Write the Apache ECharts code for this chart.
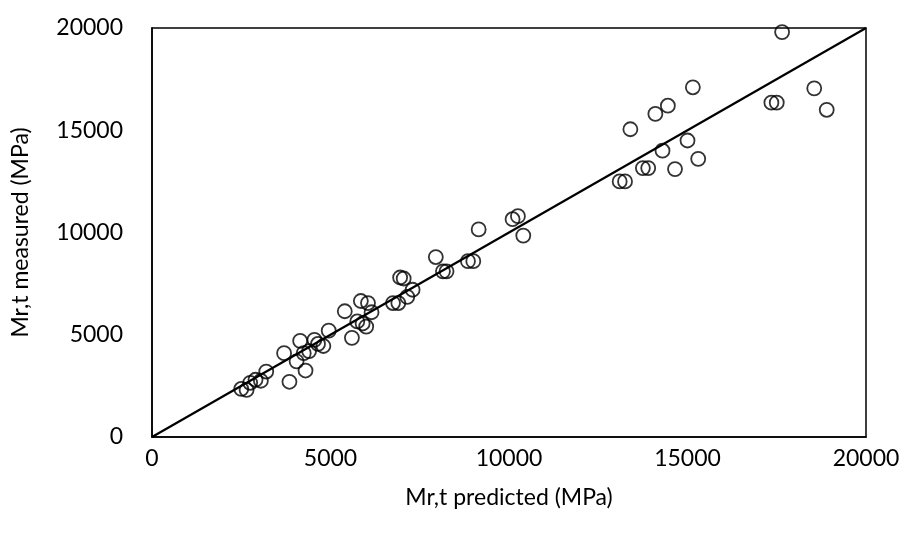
<!DOCTYPE html>
<html>
<head>
<meta charset="utf-8">
<script src="https://cdn.jsdelivr.net/npm/echarts@6/dist/echarts.min.js"></script>
<style>html,body{margin:0;padding:0;background:#fff}#c{width:906px;height:535px}</style>
</head>
<body>
<div id="c"></div>
<script>
var predicted = [17650,15150,18550,17350,17500,18900,14450,14100,13400,15000,14300,15300,13750,13900,14650,13100,13250,
  10100,10250,9150,10400,7950,8850,9000,8150,8250,6950,7050,7300,7150,6750,6900,5850,6050,5400,6150,5750,5900,6000,
  4950,5600,4150,4550,4650,4800,3700,4250,4400,4050,4300,3200,3850,2900,3050,2750,2500,2650];
var measured = [19800,17100,17050,16350,16350,16000,16200,15800,15050,14500,14000,13600,13150,13150,13100,12500,12500,
  10650,10800,10150,9850,8800,8600,8600,8100,8100,7800,7750,7200,6850,6550,6550,6650,6550,6150,6100,5650,5550,5400,
  5200,4850,4700,4750,4550,4450,4100,4100,4200,3700,3250,3200,2700,2800,2750,2650,2350,2300];
var lineX = [0, 20000];
var lineY = [0, 20000];
var xTitle = 'Mr,t predicted (MPa)';
var yTitle = 'Mr,t measured (MPa)';

var pts = predicted.map(function(v,i){return [v, measured[i]];});
var linePts = lineX.map(function(v,i){return [v, lineY[i]];});
var font = 'Lato, "Open Sans", sans-serif';
var fmt = function(v){return String(v);};
var chart = echarts.init(document.getElementById('c'));
chart.setOption({
  animation: false,
  backgroundColor: '#fff',
  grid: {left: 152, right: 40, top: 28, bottom: 98, show: true, borderColor: '#000', borderWidth: 1.5, containLabel: false},
  xAxis: {
    type: 'value', min: 0, max: 20000, interval: 5000,
    name: xTitle, nameLocation: 'middle', nameGap: 49,
    nameTextStyle: {fontFamily: font, fontSize: 23, color: '#000'},
    axisLine: {show: true, lineStyle: {color: '#000', width: 1.5}},
    axisTick: {show: false},
    axisLabel: {fontFamily: font, fontSize: 23, color: '#000', margin: 10, formatter: fmt},
    splitLine: {show: false}
  },
  yAxis: {
    type: 'value', min: 0, max: 20000, interval: 5000,
    name: yTitle, nameLocation: 'middle', nameGap: 120, nameRotate: 90,
    nameTextStyle: {fontFamily: font, fontSize: 23, color: '#000'},
    axisLine: {show: true, lineStyle: {color: '#000', width: 1.5}},
    axisTick: {show: false},
    axisLabel: {fontFamily: font, fontSize: 23, color: '#000', margin: 29, formatter: fmt},
    splitLine: {show: false}
  },
  series: [
    {type: 'line', data: linePts, symbol: 'none', lineStyle: {color: '#000', width: 2.2}, z: 2},
    {type: 'scatter', data: pts, symbol: 'circle', symbolSize: 14,
     itemStyle: {color: 'rgba(0,0,0,0)', borderColor: '#000', borderWidth: 1.8}, z: 3}
  ]
});
</script>
</body>
</html>
